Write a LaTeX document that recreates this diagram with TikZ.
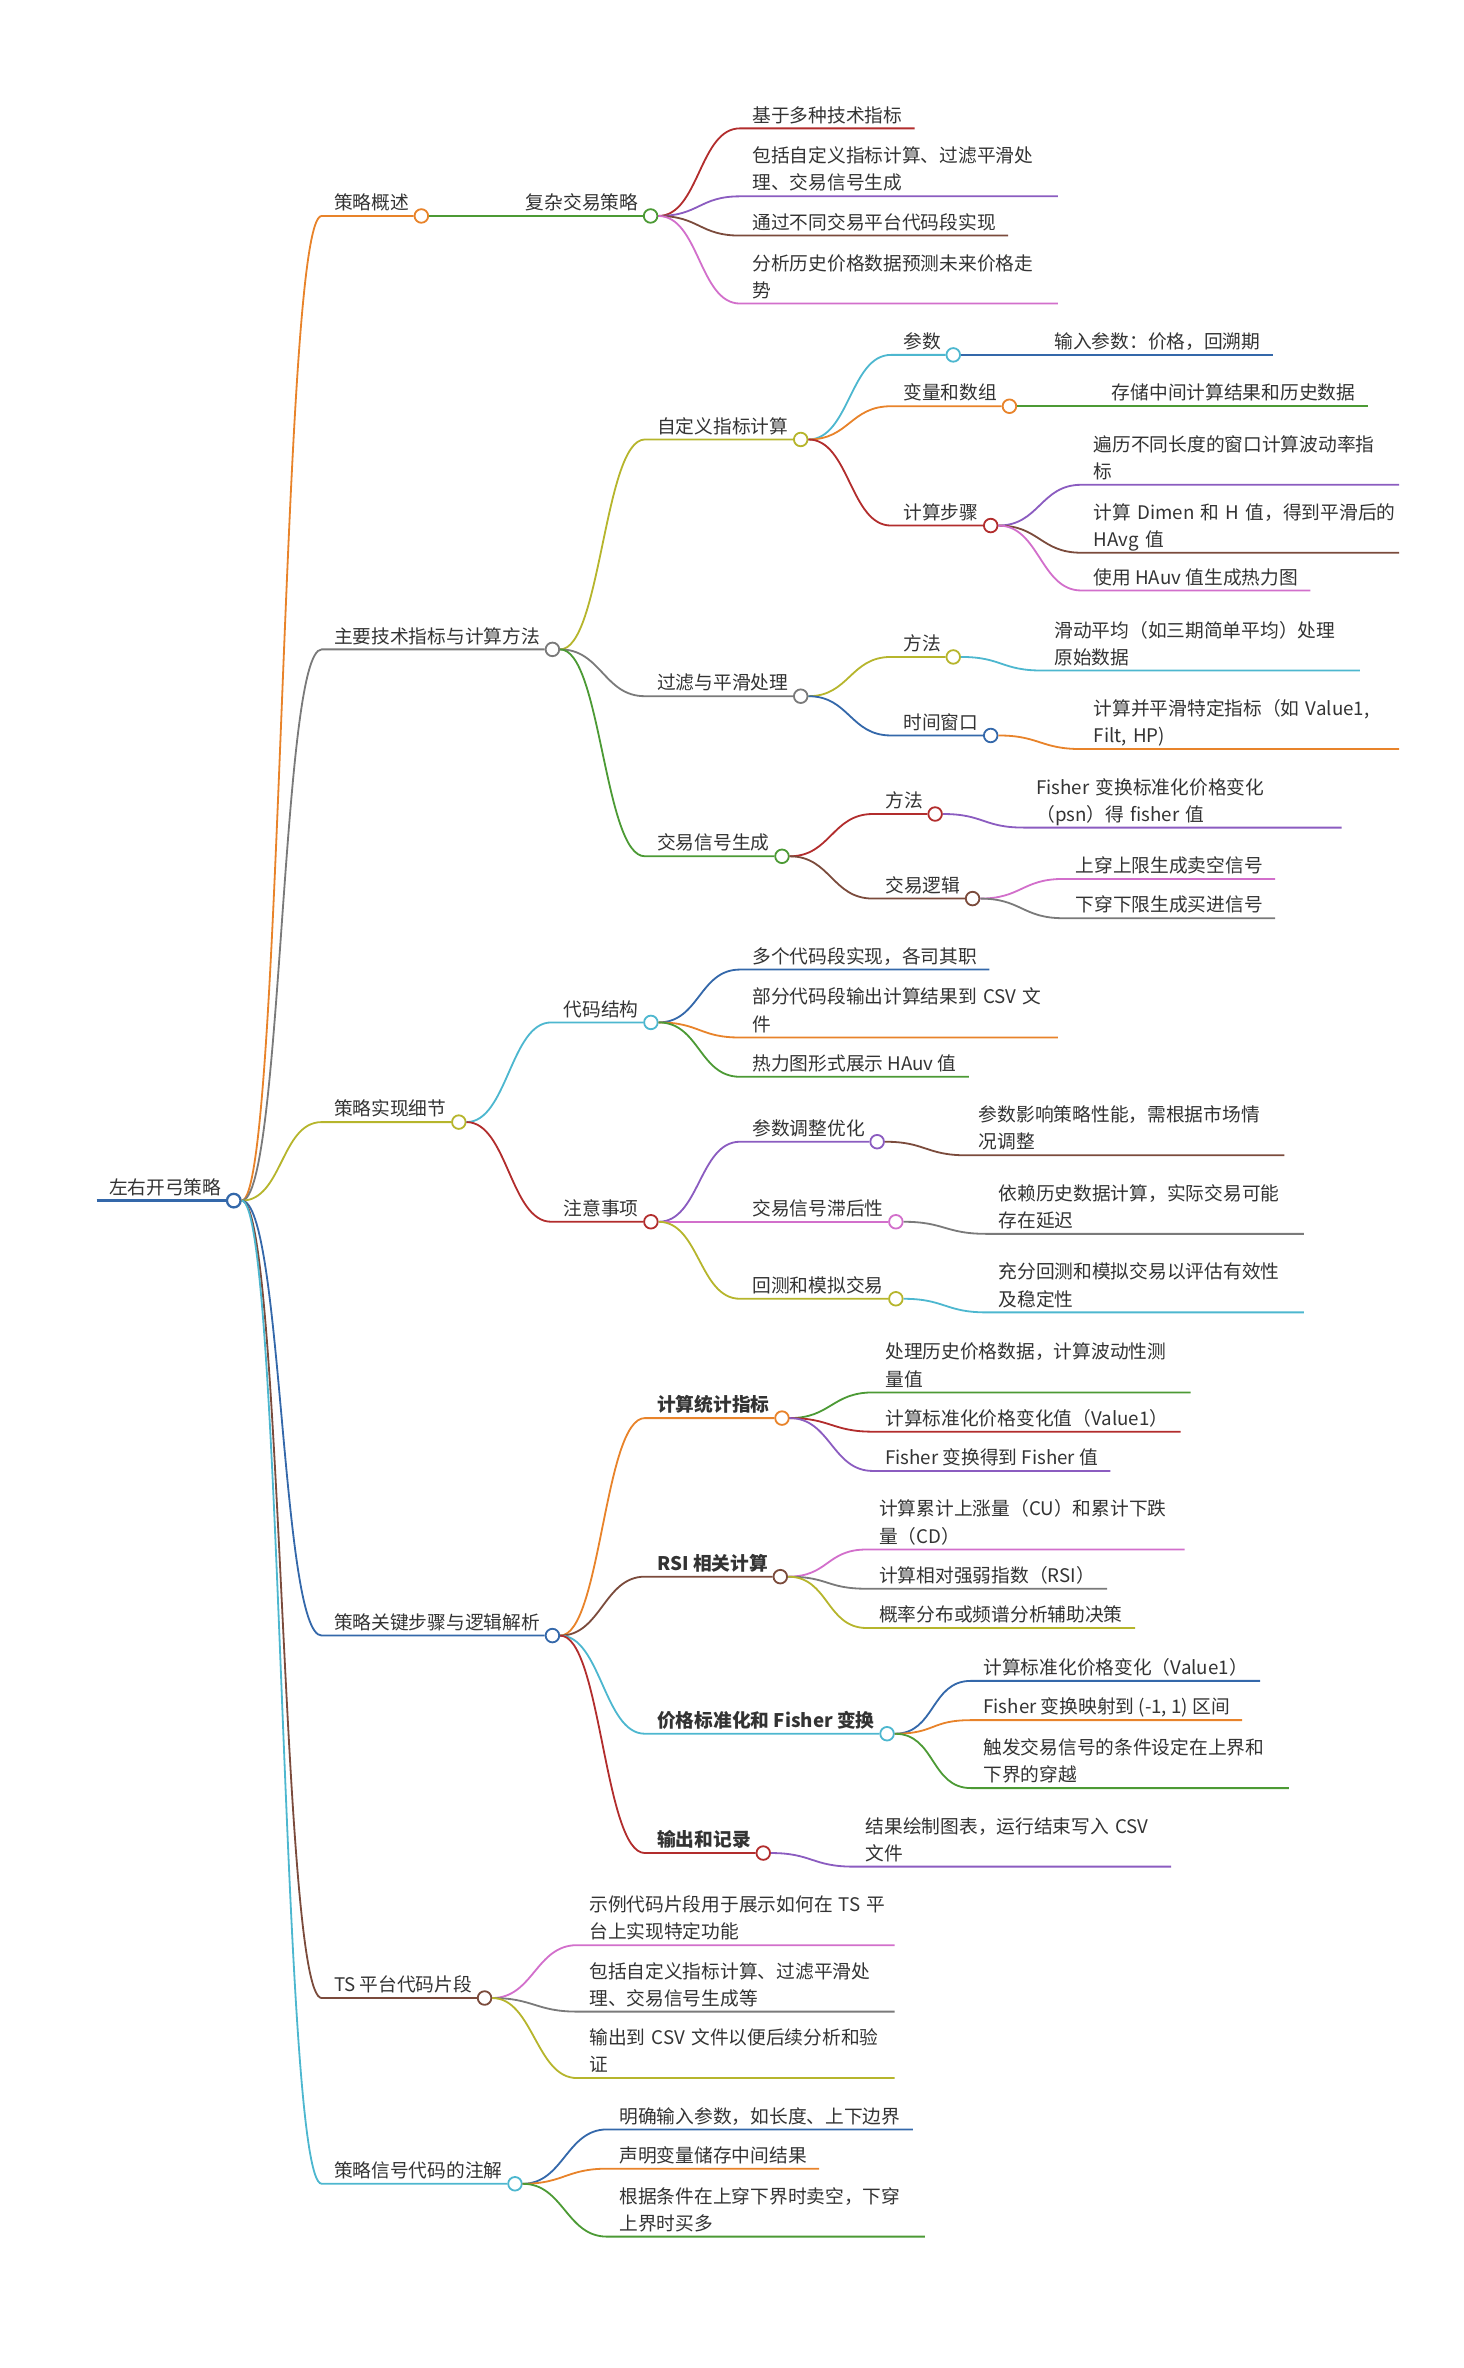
\documentclass[tikz,border=0pt]{standalone}
\usepackage{fontspec}
\setmainfont{Noto Sans CJK SC}
\hyphenpenalty=10000
\exhyphenpenalty=10000
\definecolor{ink}{RGB}{51,51,51}
\definecolor{cBlue}{RGB}{52,104,170}
\definecolor{cOrange}{RGB}{232,131,42}
\definecolor{cGray}{RGB}{122,122,122}
\definecolor{cOlive}{RGB}{182,181,44}
\definecolor{cBrown}{RGB}{123,75,60}
\definecolor{cCyan}{RGB}{77,183,207}
\definecolor{cRed}{RGB}{178,45,45}
\definecolor{cPurple}{RGB}{139,92,192}
\definecolor{cPink}{RGB}{210,111,203}
\definecolor{cGreen}{RGB}{76,154,53}
\tikzset{
    topic/.style={anchor=south west, inner xsep=8pt, inner ysep=0pt, text depth=4pt, text=ink, font=\fontsize{12.4}{18}\selectfont},
    wide/.style={topic, text width=194pt, align=left, text depth=22pt},
    strong/.style={topic, font=\fontsize{12.4}{18}\selectfont\bfseries},
    dot/.style={circle, draw=#1, fill=white, line width=1.2pt, minimum size=9pt, inner sep=0pt},
    link/.style={draw=#1, line width=1.2pt}
}
\begin{document}
\begin{tikzpicture}[x=1pt, y=-1pt]
        \useasboundingbox (0,0) rectangle (969,1568);
        % Nodes:
        \node[topic] (root) at (64,795) {左右开弓策略};
        \node[dot=cBlue, line width=1.5pt] (root-c) at (root.south east) {};
        % Strategy overview
        \node[topic] (a) at (213,143) {策略概述};
        \node[dot=cOrange] (a-c) at (a.south east) {};
        \node[topic] (a1) at (340,143) {复杂交易策略};
        \node[dot=cGreen] (a1-c) at (a1.south east) {};
        \node[topic] (a1a) at (490,85) {基于多种技术指标};
        \node[wide] (a1b) at (490,130) {包括自定义指标计算、过滤平滑处\\理、交易信号生成};
        \node[topic] (a1c) at (490,156) {通过不同交易平台代码段实现};
        \node[wide] (a1d) at (490,201) {分析历史价格数据预测未来价格走\\势};
        % Indicators
        \node[topic] (b) at (213,430) {主要技术指标与计算方法};
        \node[dot=cGray] (b-c) at (b.south east) {};
        \node[topic] (b1) at (427,291) {自定义指标计算};
        \node[dot=cOlive] (b1-c) at (b1.south east) {};
        \node[topic] (b1a) at (590,235) {参数};
        \node[dot=cCyan] (b1a-c) at (b1a.south east) {};
        \node[topic] (b1a1) at (690,235) {输入参数：价格，回溯期};
        \node[topic] (b1b) at (590,269) {变量和数组};
        \node[dot=cOrange] (b1b-c) at (b1b.south east) {};
        \node[topic] (b1b1) at (728,269) {存储中间计算结果和历史数据};
        \node[topic] (b1c) at (590,348) {计算步骤};
        \node[dot=cRed] (b1c-c) at (b1c.south east) {};
        \node[wide] (b1c1) at (716,321) {遍历不同长度的窗口计算波动率指\\标};
        \node[wide] (b1c2) at (716,366) {计算~Dimen~和~H~值，得到平滑后的\\HAvg~值};
        \node[topic] (b1c3) at (716,391) {使用 HAuv 值生成热力图};
        \node[topic] (b2) at (427,461) {过滤与平滑处理};
        \node[dot=cGray] (b2-c) at (b2.south east) {};
        \node[topic] (b2a) at (590,435) {方法};
        \node[dot=cOlive] (b2a-c) at (b2a.south east) {};
        \node[wide] (b2a1) at (690,444) {滑动平均（如三期简单平均）处理\\原始数据};
        \node[topic] (b2b) at (590,487) {时间窗口};
        \node[dot=cBlue] (b2b-c) at (b2b.south east) {};
        \node[wide] (b2b1) at (716,496) {计算并平滑特定指标（如~Value1,\\Filt,~HP)};
        \node[topic] (b3) at (427,567) {交易信号生成};
        \node[dot=cGreen] (b3-c) at (b3.south east) {};
        \node[topic] (b3a) at (578,539) {方法};
        \node[dot=cRed] (b3a-c) at (b3a.south east) {};
        \node[wide] (b3a1) at (678,548) {Fisher~变换标准化价格变化\\（psn）得~fisher~值};
        \node[topic] (b3b) at (578,595) {交易逻辑};
        \node[dot=cBrown] (b3b-c) at (b3b.south east) {};
        \node[topic] (b3b1) at (704,582) {上穿上限生成卖空信号};
        \node[topic] (b3b2) at (704,608) {下穿下限生成买进信号};
        % Implementation
        \node[topic] (c) at (213,743) {策略实现细节};
        \node[dot=cOlive] (c-c) at (c.south east) {};
        \node[topic] (c1) at (365,677) {代码结构};
        \node[dot=cCyan] (c1-c) at (c1.south east) {};
        \node[topic] (c1a) at (490,642) {多个代码段实现，各司其职};
        \node[wide] (c1b) at (490,687) {部分代码段输出计算结果到~CSV~文\\件};
        \node[topic] (c1c) at (490,713) {热力图形式展示 HAuv 值};
        \node[topic] (c2) at (365,809) {注意事项};
        \node[dot=cRed] (c2-c) at (c2.south east) {};
        \node[topic] (c2a) at (490,756) {参数调整优化};
        \node[dot=cPurple] (c2a-c) at (c2a.south east) {};
        \node[wide] (c2a1) at (640,765) {参数影响策略性能，需根据市场情\\况调整};
        \node[topic] (c2b) at (490,809) {交易信号滞后性};
        \node[dot=cPink] (c2b-c) at (c2b.south east) {};
        \node[wide] (c2b1) at (653,817) {依赖历史数据计算，实际交易可能\\存在延迟};
        \node[topic] (c2c) at (490,860) {回测和模拟交易};
        \node[dot=cOlive] (c2c-c) at (c2c.south east) {};
        \node[wide] (c2c1) at (653,869) {充分回测和模拟交易以评估有效性\\及稳定性};
        % Key steps
        \node[topic] (d) at (213,1083) {策略关键步骤与逻辑解析};
        \node[dot=cBlue] (d-c) at (d.south east) {};
        \node[strong] (d1) at (427,939) {计算统计指标};
        \node[dot=cOrange] (d1-c) at (d1.south east) {};
        \node[wide] (d1a) at (578,922) {处理历史价格数据，计算波动性测\\量值};
        \node[topic] (d1b) at (578,948) {计算标准化价格变化值（Value1）};
        \node[topic] (d1c) at (578,974) {Fisher 变换得到 Fisher 值};
        \node[strong] (d2) at (427,1044) {RSI 相关计算};
        \node[dot=cBrown] (d2-c) at (d2.south east) {};
        \node[wide] (d2a) at (574,1026) {计算累计上涨量（CU）和累计下跌\\量（CD）};
        \node[topic] (d2b) at (574,1052) {计算相对强弱指数（RSI）};
        \node[topic] (d2c) at (574,1078) {概率分布或频谱分析辅助决策};
        \node[strong] (d3) at (427,1148) {价格标准化和 Fisher 变换};
        \node[dot=cCyan] (d3-c) at (d3.south east) {};
        \node[topic] (d3a) at (643,1113) {计算标准化价格变化（Value1）};
        \node[topic] (d3b) at (643,1139) {Fisher 变换映射到 (-1, 1) 区间};
        \node[wide] (d3c) at (643,1184) {触发交易信号的条件设定在上界和\\下界的穿越};
        \node[strong] (d4) at (427,1227) {输出和记录};
        \node[dot=cRed] (d4-c) at (d4.south east) {};
        \node[wide] (d4a) at (565,1236) {结果绘制图表，运行结束写入~CSV\\文件};
        % TS snippets
        \node[topic] (e) at (213,1323) {TS 平台代码片段};
        \node[dot=cBrown] (e-c) at (e.south east) {};
        \node[wide] (e1) at (382,1288) {示例代码片段用于展示如何在~TS~平\\台上实现特定功能};
        \node[wide] (e2) at (382,1332) {包括自定义指标计算、过滤平滑处\\理、交易信号生成等};
        \node[wide] (e3) at (382,1376) {输出到~CSV~文件以便后续分析和验\\证};
        % Notes
        \node[topic] (f) at (213,1446) {策略信号代码的注解};
        \node[dot=cCyan] (f-c) at (f.south east) {};
        \node[topic] (f1) at (402,1410) {明确输入参数，如长度、上下边界};
        \node[topic] (f2) at (402,1436) {声明变量储存中间结果};
        \node[wide] (f3) at (402,1481) {根据条件在上穿下界时卖空，下穿\\上界时买多};

        % Paths and wires:
        \draw[link=cBlue, line width=1.8pt] (root.south west) -- (root-c.west);
        \draw[link=cOrange] (root-c.east) .. controls +(27,0) and +(-27,0) .. (a.south west) -- (a-c.west);
        \draw[link=cGray] (root-c.east) .. controls +(27,0) and +(-27,0) .. (b.south west) -- (b-c.west);
        \draw[link=cOlive] (root-c.east) .. controls +(27,0) and +(-27,0) .. (c.south west) -- (c-c.west);
        \draw[link=cBlue] (root-c.east) .. controls +(27,0) and +(-27,0) .. (d.south west) -- (d-c.west);
        \draw[link=cBrown] (root-c.east) .. controls +(27,0) and +(-27,0) .. (e.south west) -- (e-c.west);
        \draw[link=cCyan] (root-c.east) .. controls +(27,0) and +(-27,0) .. (f.south west) -- (f-c.west);

        \draw[link=cGreen] (a-c.east) -- (a1.south west) -- (a1-c.west);
        \draw[link=cRed] (a1-c.east) .. controls +(27,0) and +(-27,0) .. (a1a.south west) -- (a1a.south east);
        \draw[link=cPurple] (a1-c.east) .. controls +(27,0) and +(-27,0) .. (a1b.south west) -- (a1b.south east);
        \draw[link=cBrown] (a1-c.east) .. controls +(27,0) and +(-27,0) .. (a1c.south west) -- (a1c.south east);
        \draw[link=cPink] (a1-c.east) .. controls +(27,0) and +(-27,0) .. (a1d.south west) -- (a1d.south east);

        \draw[link=cOlive] (b-c.east) .. controls +(27,0) and +(-27,0) .. (b1.south west) -- (b1-c.west);
        \draw[link=cGray] (b-c.east) .. controls +(27,0) and +(-27,0) .. (b2.south west) -- (b2-c.west);
        \draw[link=cGreen] (b-c.east) .. controls +(27,0) and +(-27,0) .. (b3.south west) -- (b3-c.west);
        \draw[link=cCyan] (b1-c.east) .. controls +(27,0) and +(-27,0) .. (b1a.south west) -- (b1a-c.west);
        \draw[link=cOrange] (b1-c.east) .. controls +(27,0) and +(-27,0) .. (b1b.south west) -- (b1b-c.west);
        \draw[link=cRed] (b1-c.east) .. controls +(27,0) and +(-27,0) .. (b1c.south west) -- (b1c-c.west);
        \draw[link=cBlue] (b1a-c.east) -- (b1a1.south west) -- (b1a1.south east);
        \draw[link=cGreen] (b1b-c.east) -- (b1b1.south west) -- (b1b1.south east);
        \draw[link=cPurple] (b1c-c.east) .. controls +(27,0) and +(-27,0) .. (b1c1.south west) -- (b1c1.south east);
        \draw[link=cBrown] (b1c-c.east) .. controls +(27,0) and +(-27,0) .. (b1c2.south west) -- (b1c2.south east);
        \draw[link=cPink] (b1c-c.east) .. controls +(27,0) and +(-27,0) .. (b1c3.south west) -- (b1c3.south east);
        \draw[link=cOlive] (b2-c.east) .. controls +(27,0) and +(-27,0) .. (b2a.south west) -- (b2a-c.west);
        \draw[link=cBlue] (b2-c.east) .. controls +(27,0) and +(-27,0) .. (b2b.south west) -- (b2b-c.west);
        \draw[link=cCyan] (b2a-c.east) .. controls +(27,0) and +(-27,0) .. (b2a1.south west) -- (b2a1.south east);
        \draw[link=cOrange] (b2b-c.east) .. controls +(27,0) and +(-27,0) .. (b2b1.south west) -- (b2b1.south east);
        \draw[link=cRed] (b3-c.east) .. controls +(27,0) and +(-27,0) .. (b3a.south west) -- (b3a-c.west);
        \draw[link=cBrown] (b3-c.east) .. controls +(27,0) and +(-27,0) .. (b3b.south west) -- (b3b-c.west);
        \draw[link=cPurple] (b3a-c.east) .. controls +(27,0) and +(-27,0) .. (b3a1.south west) -- (b3a1.south east);
        \draw[link=cPink] (b3b-c.east) .. controls +(27,0) and +(-27,0) .. (b3b1.south west) -- (b3b1.south east);
        \draw[link=cGray] (b3b-c.east) .. controls +(27,0) and +(-27,0) .. (b3b2.south west) -- (b3b2.south east);

        \draw[link=cCyan] (c-c.east) .. controls +(27,0) and +(-27,0) .. (c1.south west) -- (c1-c.west);
        \draw[link=cRed] (c-c.east) .. controls +(27,0) and +(-27,0) .. (c2.south west) -- (c2-c.west);
        \draw[link=cBlue] (c1-c.east) .. controls +(27,0) and +(-27,0) .. (c1a.south west) -- (c1a.south east);
        \draw[link=cOrange] (c1-c.east) .. controls +(27,0) and +(-27,0) .. (c1b.south west) -- (c1b.south east);
        \draw[link=cGreen] (c1-c.east) .. controls +(27,0) and +(-27,0) .. (c1c.south west) -- (c1c.south east);
        \draw[link=cPurple] (c2-c.east) .. controls +(27,0) and +(-27,0) .. (c2a.south west) -- (c2a-c.west);
        \draw[link=cPink] (c2-c.east) .. controls +(27,0) and +(-27,0) .. (c2b.south west) -- (c2b-c.west);
        \draw[link=cOlive] (c2-c.east) .. controls +(27,0) and +(-27,0) .. (c2c.south west) -- (c2c-c.west);
        \draw[link=cBrown] (c2a-c.east) .. controls +(27,0) and +(-27,0) .. (c2a1.south west) -- (c2a1.south east);
        \draw[link=cGray] (c2b-c.east) .. controls +(27,0) and +(-27,0) .. (c2b1.south west) -- (c2b1.south east);
        \draw[link=cCyan] (c2c-c.east) .. controls +(27,0) and +(-27,0) .. (c2c1.south west) -- (c2c1.south east);

        \draw[link=cOrange] (d-c.east) .. controls +(27,0) and +(-27,0) .. (d1.south west) -- (d1-c.west);
        \draw[link=cBrown] (d-c.east) .. controls +(27,0) and +(-27,0) .. (d2.south west) -- (d2-c.west);
        \draw[link=cCyan] (d-c.east) .. controls +(27,0) and +(-27,0) .. (d3.south west) -- (d3-c.west);
        \draw[link=cRed] (d-c.east) .. controls +(27,0) and +(-27,0) .. (d4.south west) -- (d4-c.west);
        \draw[link=cGreen] (d1-c.east) .. controls +(27,0) and +(-27,0) .. (d1a.south west) -- (d1a.south east);
        \draw[link=cRed] (d1-c.east) .. controls +(27,0) and +(-27,0) .. (d1b.south west) -- (d1b.south east);
        \draw[link=cPurple] (d1-c.east) .. controls +(27,0) and +(-27,0) .. (d1c.south west) -- (d1c.south east);
        \draw[link=cPink] (d2-c.east) .. controls +(27,0) and +(-27,0) .. (d2a.south west) -- (d2a.south east);
        \draw[link=cGray] (d2-c.east) .. controls +(27,0) and +(-27,0) .. (d2b.south west) -- (d2b.south east);
        \draw[link=cOlive] (d2-c.east) .. controls +(27,0) and +(-27,0) .. (d2c.south west) -- (d2c.south east);
        \draw[link=cBlue] (d3-c.east) .. controls +(27,0) and +(-27,0) .. (d3a.south west) -- (d3a.south east);
        \draw[link=cOrange] (d3-c.east) .. controls +(27,0) and +(-27,0) .. (d3b.south west) -- (d3b.south east);
        \draw[link=cGreen] (d3-c.east) .. controls +(27,0) and +(-27,0) .. (d3c.south west) -- (d3c.south east);
        \draw[link=cPurple] (d4-c.east) .. controls +(27,0) and +(-27,0) .. (d4a.south west) -- (d4a.south east);

        \draw[link=cPink] (e-c.east) .. controls +(27,0) and +(-27,0) .. (e1.south west) -- (e1.south east);
        \draw[link=cGray] (e-c.east) .. controls +(27,0) and +(-27,0) .. (e2.south west) -- (e2.south east);
        \draw[link=cOlive] (e-c.east) .. controls +(27,0) and +(-27,0) .. (e3.south west) -- (e3.south east);

        \draw[link=cBlue] (f-c.east) .. controls +(27,0) and +(-27,0) .. (f1.south west) -- (f1.south east);
        \draw[link=cOrange] (f-c.east) .. controls +(27,0) and +(-27,0) .. (f2.south west) -- (f2.south east);
        \draw[link=cGreen] (f-c.east) .. controls +(27,0) and +(-27,0) .. (f3.south west) -- (f3.south east);
\end{tikzpicture}
\end{document}
